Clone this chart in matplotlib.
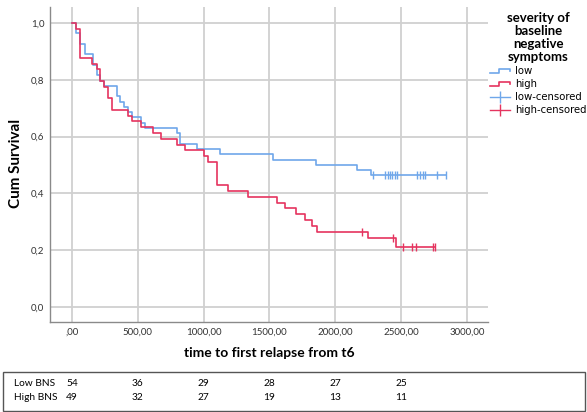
import numpy as np
import matplotlib
matplotlib.use('Agg')
import matplotlib.pyplot as plt
import matplotlib.transforms as mtransforms
from matplotlib.lines import Line2D
from matplotlib.patches import Rectangle
from matplotlib.legend_handler import HandlerBase
from matplotlib.ticker import FuncFormatter

plt.rcParams['font.family'] = ['Lato', 'DejaVu Sans']

# Kaplan-Meier steps (time of drop, survival after drop)
low_times = [0, 30, 61, 99, 157, 188, 213, 245, 340, 365, 395, 428, 453, 522, 555,
             795, 820, 948, 1125, 1525, 1854, 2163, 2270]
low_surv = [1.0, 0.963, 0.926, 0.889, 0.852, 0.815, 0.796, 0.778, 0.741, 0.722, 0.704,
            0.685, 0.667, 0.648, 0.630, 0.611, 0.574, 0.556, 0.537, 0.519, 0.500, 0.481, 0.463]
low_censored = [2284, 2382, 2400, 2417, 2435, 2454, 2471, 2624, 2644, 2665, 2684, 2776, 2842]

high_times = [0, 30, 58, 150, 188, 213, 243, 276, 302, 428, 458, 522, 613, 674, 795,
              859, 1003, 1036, 1099, 1188, 1340, 1555, 1615, 1702, 1771, 1826, 1859, 2252, 2462]
high_surv = [1.0, 0.980, 0.878, 0.857, 0.837, 0.796, 0.776, 0.735, 0.694, 0.673, 0.653,
             0.633, 0.612, 0.592, 0.571, 0.551, 0.531, 0.510, 0.429, 0.408, 0.388, 0.367,
             0.347, 0.327, 0.306, 0.286, 0.265, 0.243, 0.212]
high_censored = [2201, 2437, 2518, 2581, 2614, 2746, 2758]

# numbers at risk table
risk_ticks = [0, 500, 1000, 1500, 2000, 2500]
risk_low = [54, 36, 29, 28, 27, 25]
risk_high = [49, 32, 27, 19, 13, 11]

BLUE = '#6fa7ea'
RED = '#e5345f'


def surv_at(times, surv, t):
    idx = np.searchsorted(times, t, side='right') - 1
    return np.asarray(surv)[idx]


class HandlerStep(HandlerBase):
    # little step-shaped legend key like SPSS draws
    def create_artists(self, legend, orig_handle, xdescent, ydescent, width, height, fontsize, trans):
        xs = np.array([0, .45, .45, 1, 1]) * width - xdescent
        ys = np.array([.2, .2, .75, .75, .45]) * height - ydescent
        line = Line2D(xs, ys, color=orig_handle.get_color(), lw=orig_handle.get_linewidth())
        line.set_transform(trans)
        return [line]


W, H = 587, 412
fig = plt.figure(figsize=(W / 100, H / 100), dpi=100)
ax = fig.add_axes([50 / W, 1 - 322 / H, (488 - 50) / W, (322 - 7) / H])

for times, surv, cens, col in [(low_times, low_surv, low_censored, BLUE),
                               (high_times, high_surv, high_censored, RED)]:
    t = list(times) + [max(cens)]
    s = list(surv) + [surv[-1]]
    ax.step(t, s, where='post', color=col, lw=1.2, zorder=3)
    ax.plot(cens, surv_at(times, surv, cens), ls='none', marker='|', ms=6, mew=1.0,
            color=col, zorder=4)

ax.set_xlim(-167, 3161)
ax.set_ylim(-0.053, 1.056)
ax.set_xticks([0, 500, 1000, 1500, 2000, 2500, 3000])
ax.set_yticks([0, 0.2, 0.4, 0.6, 0.8, 1.0])
ax.xaxis.set_major_formatter(FuncFormatter(
    lambda v, p: ',00' if v == 0 else ('%.2f' % v).replace('.', ',')))
ax.yaxis.set_major_formatter(FuncFormatter(lambda v, p: ('%.1f' % v).replace('.', ',')))
ax.tick_params(length=0, labelsize=7, colors='#333333', pad=4)
ax.grid(True, color='#d0d0d0', lw=1.3)
ax.set_axisbelow(True)
for side in ['top', 'right']:
    ax.spines[side].set_visible(False)
for side in ['left', 'bottom']:
    ax.spines[side].set_color('#8a8a8a')
    ax.spines[side].set_linewidth(1.0)

fig.text(269 / W, 1 - 353 / H, 'time to first relapse from t6', ha='center', va='center',
         fontsize=10, fontweight='bold')
fig.text(16 / W, 1 - 163 / H, 'Cum Survival', ha='center', va='center', rotation=90,
         fontsize=11, fontweight='bold')

handles = [Line2D([], [], color=BLUE, lw=1.2), Line2D([], [], color=RED, lw=1.2),
           Line2D([], [], color=BLUE, lw=1.0, marker='|', ms=8, mew=1.0),
           Line2D([], [], color=RED, lw=1.0, marker='|', ms=8, mew=1.0)]
leg = ax.legend(handles, ['low', 'high', 'low-censored', 'high-censored'],
                loc='upper left', bbox_to_anchor=(490 / W, 1 - 12 / H),
                bbox_transform=fig.transFigure, frameon=False,
                title='severity of\nbaseline\nnegative\nsymptoms',
                title_fontproperties={'weight': 'bold', 'size': 9.5},
                alignment='center', prop={'family': ['DejaVu Sans'], 'size': 7.3},
                handlelength=2.0, handletextpad=0.5,
                labelspacing=0.3, borderpad=0, borderaxespad=0,
                handler_map={handles[0]: HandlerStep(), handles[1]: HandlerStep()})
leg.get_title().set_linespacing(1.1)
leg.get_title().set_multialignment('center')

# number at risk box below the plot
fig.add_artist(Rectangle((3 / W, 1 - 411 / H), 582 / W, 39 / H, transform=fig.transFigure,
                         fill=False, ec='#555555', lw=1.0))
bt = mtransforms.blended_transform_factory(ax.transData, fig.transFigure)
for label, vals, ypx in [('Low BNS', risk_low, 384), ('High BNS', risk_high, 398)]:
    fig.text(14 / W, 1 - ypx / H, label, ha='left', va='center', fontsize=7.3)
    for x, v in zip(risk_ticks, vals):
        ax.text(x, 1 - ypx / H, str(v), transform=bt, ha='center', va='center',
                fontsize=7.3, clip_on=False)

fig.savefig('out.png', dpi=100)
